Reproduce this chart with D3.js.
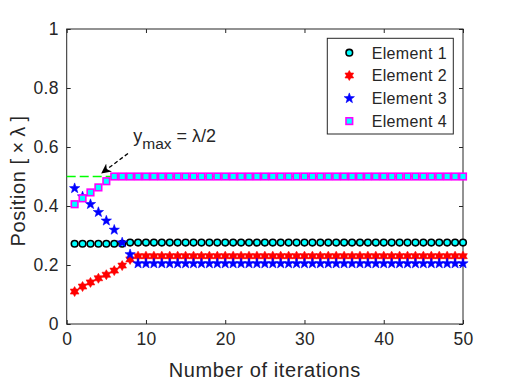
<!DOCTYPE html>
<html>
<head>
<meta charset="utf-8">
<script src="https://cdn.jsdelivr.net/npm/d3@7"></script>
<style>
  body { margin: 0; background: #fff; }
  svg text { font-family: "Liberation Sans", Arial, sans-serif; fill: #262626; }
</style>
</head>
<body>
<div id="chart"></div>
<script>
// iterations 1..50
var iterations = d3.range(1, 51);

// element positions (in units of lambda)
var element1 = [0.272, 0.272, 0.272, 0.272, 0.272, 0.272, 0.272, 0.276, 0.276, 0.276,
    0.276, 0.276, 0.276, 0.276, 0.276, 0.276, 0.276, 0.276, 0.276, 0.276,
    0.276, 0.276, 0.276, 0.276, 0.276, 0.276, 0.276, 0.276, 0.276, 0.276,
    0.276, 0.276, 0.276, 0.276, 0.276, 0.276, 0.276, 0.276, 0.276, 0.276,
    0.276, 0.276, 0.276, 0.276, 0.276, 0.276, 0.276, 0.276, 0.276, 0.276];
var element2 = [0.110, 0.127, 0.141, 0.155, 0.167, 0.181, 0.198, 0.219, 0.230, 0.230,
    0.230, 0.230, 0.230, 0.230, 0.230, 0.230, 0.230, 0.230, 0.230, 0.230,
    0.230, 0.230, 0.230, 0.230, 0.230, 0.230, 0.230, 0.230, 0.230, 0.230,
    0.230, 0.230, 0.230, 0.230, 0.230, 0.230, 0.230, 0.230, 0.230, 0.230,
    0.230, 0.230, 0.230, 0.230, 0.230, 0.230, 0.230, 0.230, 0.230, 0.230];
var element3 = [0.460, 0.432, 0.406, 0.379, 0.350, 0.319, 0.276, 0.236, 0.205, 0.205,
    0.205, 0.205, 0.205, 0.205, 0.205, 0.205, 0.205, 0.205, 0.205, 0.205,
    0.205, 0.205, 0.205, 0.205, 0.205, 0.205, 0.205, 0.205, 0.205, 0.205,
    0.205, 0.205, 0.205, 0.205, 0.205, 0.205, 0.205, 0.205, 0.205, 0.205,
    0.205, 0.205, 0.205, 0.205, 0.205, 0.205, 0.205, 0.205, 0.205, 0.205];
var element4 = [0.406, 0.426, 0.446, 0.463, 0.484, 0.500, 0.500, 0.500, 0.500, 0.500,
    0.500, 0.500, 0.500, 0.500, 0.500, 0.500, 0.500, 0.500, 0.500, 0.500,
    0.500, 0.500, 0.500, 0.500, 0.500, 0.500, 0.500, 0.500, 0.500, 0.500,
    0.500, 0.500, 0.500, 0.500, 0.500, 0.500, 0.500, 0.500, 0.500, 0.500,
    0.500, 0.500, 0.500, 0.500, 0.500, 0.500, 0.500, 0.500, 0.500, 0.500];

var seriesNames = ["Element 1", "Element 2", "Element 3", "Element 4"];
var xTicks = [0, 10, 20, 30, 40, 50];
var yTicks = [0, 0.2, 0.4, 0.6, 0.8, 1];
var yMax = 0.5;

var width = 512, height = 384;
var margin = {left: 66.7, right: 49, top: 29, bottom: 60};

var svg = d3.select("#chart").append("svg")
    .attr("width", width)
    .attr("height", height);

var x = d3.scaleLinear().domain([0, 50]).range([margin.left, width - margin.right]);
var y = d3.scaleLinear().domain([0, 1]).range([height - margin.bottom, margin.top]);

var axisColor = "#262626";

// star path with n points
function starPath(n, R, r) {
    var pts = [];
    for (var i = 0; i < 2 * n; i++) {
        var a = Math.PI * i / n - Math.PI / 2;
        var rad = i % 2 === 0 ? R : r;
        pts.push([rad * Math.cos(a), rad * Math.sin(a)]);
    }
    return "M" + pts.map(p => p[0].toFixed(2) + "," + p[1].toFixed(2)).join("L") + "Z";
}

var markers = [
    {draw: g => g.append("circle").attr("r", 3.3).attr("fill", "#00ffff").attr("stroke", "#000").attr("stroke-width", 1.6)},
    {draw: g => g.append("path").attr("d", starPath(6, 5, 2.9)).attr("fill", "#ff0000").attr("stroke", "#ff0000").attr("stroke-width", 0.6)},
    {draw: g => g.append("path").attr("d", starPath(5, 5.4, 2.2)).attr("fill", "#0000ff").attr("stroke", "#0000ff").attr("stroke-width", 0.6)},
    {draw: g => g.append("rect").attr("x", -3.3).attr("y", -3.3).attr("width", 6.6).attr("height", 6.6)
        .attr("fill", "#00ffff").attr("stroke", "#ff00ff").attr("stroke-width", 1.6)}
];

// axes, ticks pointing inward on all four sides
var xAxis = d3.axisBottom(x).tickValues(xTicks).tickSize(-4).tickPadding(9).tickFormat(d3.format("d"));
var xAxisTop = d3.axisTop(x).tickValues(xTicks).tickSize(-4).tickFormat("");
var yAxis = d3.axisLeft(y).tickValues(yTicks).tickSize(-4).tickPadding(8).tickFormat(d => d === 0 || d === 1 ? d : d.toFixed(1));
var yAxisRight = d3.axisRight(y).tickValues(yTicks).tickSize(-4).tickFormat("");

function styleAxis(g) {
    g.select(".domain").remove();
    g.selectAll(".tick line").attr("stroke", axisColor);
    g.selectAll(".tick text").attr("fill", axisColor)
        .style("font-family", "'Liberation Sans', Arial, sans-serif")
        .style("font-size", "17.5px").style("letter-spacing", "0.3px");
}

svg.append("g").attr("transform", "translate(0," + y(0) + ")").call(xAxis).call(styleAxis);
svg.append("g").attr("transform", "translate(0," + y(1) + ")").call(xAxisTop).call(styleAxis);
svg.append("g").attr("transform", "translate(" + x(0) + ",0)").call(yAxis).call(styleAxis);
svg.append("g").attr("transform", "translate(" + x(50) + ",0)").call(yAxisRight).call(styleAxis);

svg.append("rect")
    .attr("x", x(0)).attr("y", y(1))
    .attr("width", x(50) - x(0)).attr("height", y(0) - y(1))
    .attr("fill", "none").attr("stroke", axisColor).attr("stroke-width", 1);

// y_max dashed line
svg.append("line")
    .attr("x1", x(0)).attr("x2", x(50))
    .attr("y1", y(yMax)).attr("y2", y(yMax))
    .attr("stroke", "#00ff00").attr("stroke-width", 1.5)
    .attr("stroke-dasharray", "9,4");

// series markers
var allSeries = [element1, element2, element3, element4];
allSeries.forEach((vals, k) => {
    var g = svg.append("g");
    g.selectAll("g")
        .data(iterations.map((it, i) => [it, vals[i]]))
        .enter()
        .append("g")
        .attr("transform", d => "translate(" + x(d[0]) + "," + y(d[1]) + ")")
        .each(function() { markers[k].draw(d3.select(this)); });
});

// annotation arrow
var arrowStart = [7.73, 0.578], arrowEnd = [4.45, 0.512];
var defs = svg.append("defs");
defs.append("marker")
    .attr("id", "head")
    .attr("viewBox", "0 0 10 10")
    .attr("refX", 9).attr("refY", 5)
    .attr("markerWidth", 10).attr("markerHeight", 10)
    .attr("markerUnits", "userSpaceOnUse")
    .attr("orient", "auto")
    .append("path")
    .attr("d", "M0,0L10,5L0,10L3,5Z")
    .attr("fill", "#000");

svg.append("line")
    .attr("x1", x(arrowStart[0])).attr("y1", y(arrowStart[1]))
    .attr("x2", x(arrowEnd[0])).attr("y2", y(arrowEnd[1]))
    .attr("stroke", "#000").attr("stroke-width", 1.3)
    .attr("stroke-dasharray", "4,2.5")
    .attr("marker-end", "url(#head)");

var ann = svg.append("text")
    .attr("x", x(8.4)).attr("y", y(0.618))
    .style("font-size", "18px").attr("fill", "#000");
ann.append("tspan").text("y");
ann.append("tspan").attr("dy", 7).style("font-size", "15.5px").text("max");
ann.append("tspan").attr("dy", -7).text(" = \u03bb/2");

// axis labels
svg.append("text")
    .attr("x", (x(0) + x(50)) / 2).attr("y", 377)
    .attr("text-anchor", "middle")
    .style("font-size", "20px").style("letter-spacing", "0.6px")
    .text("Number of iterations");

svg.append("text")
    .attr("transform", "translate(25," + y(0.485) + ") rotate(-90)")
    .attr("text-anchor", "middle")
    .style("font-size", "20px").style("letter-spacing", "0.6px")
    .text("Position [\u2009\u00d7\u2009\u03bb\u2009]");

// legend
var legX = 327.3, legY = 38.3, legW = 126, legH = 95.7, rowH = 22.8;
var legend = svg.append("g");
legend.append("rect")
    .attr("x", legX).attr("y", legY).attr("width", legW).attr("height", legH)
    .attr("fill", "#fff").attr("stroke", axisColor).attr("stroke-width", 1);

seriesNames.forEach((name, k) => {
    var cy = legY + 14.4 + k * rowH;
    var mg = legend.append("g").attr("transform", "translate(" + (legX + 22) + "," + cy + ")");
    markers[k].draw(mg);
    legend.append("text")
        .attr("x", legX + 44.4).attr("y", cy + 5.8)
        .style("font-size", "16px").style("letter-spacing", "0.35px")
        .attr("fill", "#000")
        .text(name);
});
</script>
</body>
</html>
